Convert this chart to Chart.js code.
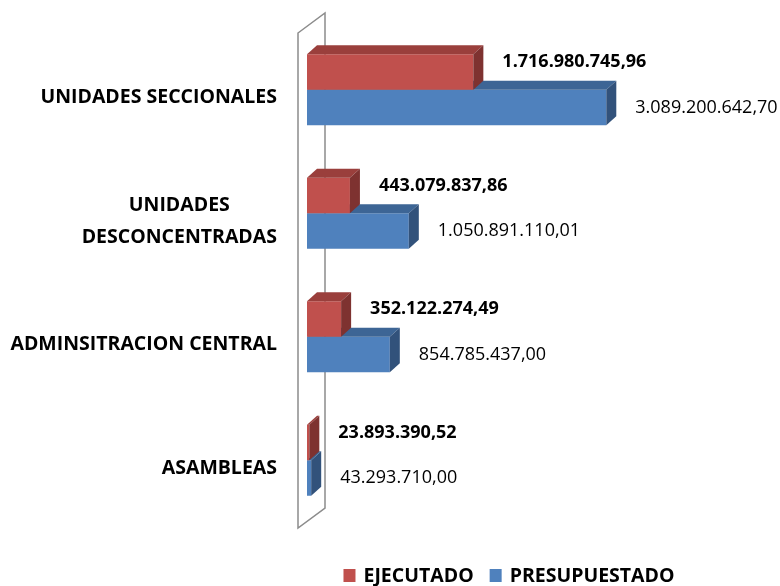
<!DOCTYPE html>
<html>
<head>
<meta charset="utf-8">
<script src="https://cdn.jsdelivr.net/npm/chart.js@4.4.0/dist/chart.umd.min.js"></script>
<style>
html, body { margin: 0; padding: 0; background: #fff; }
#wrap { width: 780px; height: 586px; }
</style>
</head>
<body>
<div id="wrap"><canvas id="grafico"></canvas></div>
<script>
const categorias = [['UNIDADES SECCIONALES'], ['UNIDADES', 'DESCONCENTRADAS'], ['ADMINSITRACION CENTRAL'], ['ASAMBLEAS']];
const series = ['EJECUTADO', 'PRESUPUESTADO'];
const ejecutado = [1716980745.96, 443079837.86, 352122274.49, 23893390.52];
const presupuestado = [3089200642.70, 1050891110.01, 854785437.00, 43293710.00];

const colores = ['#C0504D', '#4F81BD'];
const coloresTope = ['#9A3F3C', '#3D6595'];
const coloresLado = ['#7E3230', '#32527B'];

const FUENTE = '"Open Sans", "Liberation Sans", sans-serif';
const PROF_X = 10, PROF_Y = -9;

// 1234567.5 -> "1.234.567,50"
function formatoPesos(v)
{
    const partes = v.toFixed(2).split('.');
    const entero = partes[0].replace(/\B(?=(\d{3})+(?!\d))/g, '.');
    return entero + ',' + partes[1];
}

// Pared de fondo del grafico 3D
const paredPlugin = {
    id: 'pared',
    beforeDatasetsDraw(chart)
    {
        const { ctx, chartArea: { top, bottom } } = chart;
        const x0 = chart.scales.x.getPixelForValue(0);
        ctx.save();
        ctx.strokeStyle = '#8c8c8c';
        ctx.lineWidth = 1.5;
        ctx.beginPath();
        ctx.moveTo(x0 - 9, top + 5);
        ctx.lineTo(x0 + 18, top - 15);
        ctx.lineTo(x0 + 18, bottom - 14);
        ctx.lineTo(x0 - 9, bottom + 6);
        ctx.closePath();
        ctx.stroke();
        ctx.restore();
    }
};

// Caras superior y lateral de cada barra
const profundidadPlugin = {
    id: 'profundidad',
    afterDatasetDraw(chart, args)
    {
        const ctx = chart.ctx;
        const i = args.index;
        ctx.save();
        args.meta.data.forEach(bar =>
        {
            const p = bar.getProps(['x', 'y', 'base', 'height'], true);
            const arriba = p.y - p.height / 2;
            const abajo = p.y + p.height / 2;

            ctx.fillStyle = coloresTope[i];
            ctx.beginPath();
            ctx.moveTo(p.base, arriba);
            ctx.lineTo(p.x, arriba);
            ctx.lineTo(p.x + PROF_X, arriba + PROF_Y);
            ctx.lineTo(p.base + PROF_X, arriba + PROF_Y);
            ctx.closePath();
            ctx.fill();

            ctx.fillStyle = coloresLado[i];
            ctx.beginPath();
            ctx.moveTo(p.x, arriba);
            ctx.lineTo(p.x + PROF_X, arriba + PROF_Y);
            ctx.lineTo(p.x + PROF_X, abajo + PROF_Y);
            ctx.lineTo(p.x, abajo);
            ctx.closePath();
            ctx.fill();
        });
        ctx.restore();
    }
};

// Etiquetas de categorias, valores y leyenda
const textosPlugin = {
    id: 'textos',
    afterDraw(chart)
    {
        const { ctx, chartArea } = chart;
        const yScale = chart.scales.y;
        ctx.save();
        ctx.fillStyle = '#000';
        ctx.textBaseline = 'middle';

        // categorias
        ctx.font = 'bold 19.5px ' + FUENTE;
        ctx.textAlign = 'center';
        chart.data.labels.forEach((lineas, idx) =>
        {
            const yc = yScale.getPixelForValue(idx) + 8;
            const ancho = Math.max(...lineas.map(l => ctx.measureText(l).width));
            const xc = chartArea.left - 30 - ancho / 2;
            const alto = 32;
            lineas.forEach((l, k) =>
            {
                ctx.fillText(l, xc, yc + (k - (lineas.length - 1) / 2) * alto);
            });
        });

        // valores
        ctx.textAlign = 'left';
        chart.data.datasets.forEach((ds, i) =>
        {
            ctx.font = (i === 0 ? 'bold ' : '') + '18px ' + FUENTE;
            chart.getDatasetMeta(i).data.forEach((bar, j) =>
            {
                ctx.fillText(formatoPesos(ds.data[j]), bar.x + 29, bar.y + (i === 0 ? -10 : 0));
            });
        });

        // leyenda
        ctx.font = 'bold 19.5px ' + FUENTE;
        const caja = 12, hueco = 8, separa = 16;
        const anchos = chart.data.datasets.map(ds => caja + hueco + ctx.measureText(ds.label).width);
        const total = anchos.reduce((a, b) => a + b, 0) + separa * (anchos.length - 1);
        let x = (chartArea.left + chartArea.right) / 2 - total / 2;
        const yl = 576;
        chart.data.datasets.forEach((ds, i) =>
        {
            ctx.fillStyle = ds.backgroundColor;
            ctx.fillRect(x, yl - 7, caja, 13);
            ctx.fillStyle = '#000';
            ctx.fillText(ds.label, x + caja + hueco, yl);
            x += anchos[i] + separa;
        });
        ctx.restore();
    }
};

const ctx = document.getElementById('grafico').getContext('2d');
new Chart(ctx, {
    type: 'bar',
    data: {
        labels: categorias,
        datasets: [
            { label: series[0], data: ejecutado, backgroundColor: colores[0] },
            { label: series[1], data: presupuestado, backgroundColor: colores[1] }
        ]
    },
    options: {
        indexAxis: 'y',
        responsive: true,
        maintainAspectRatio: false,
        animation: false,
        barPercentage: 1,
        categoryPercentage: 0.575,
        layout: { padding: { left: 307, right: 69, top: 28, bottom: 64 } },
        plugins: {
            legend: { display: false },
            tooltip: { enabled: false }
        },
        scales: {
            x: { display: false, min: 0, max: 4.17e9 },
            y: { display: false }
        }
    },
    plugins: [paredPlugin, profundidadPlugin, textosPlugin]
});
</script>
</body>
</html>
